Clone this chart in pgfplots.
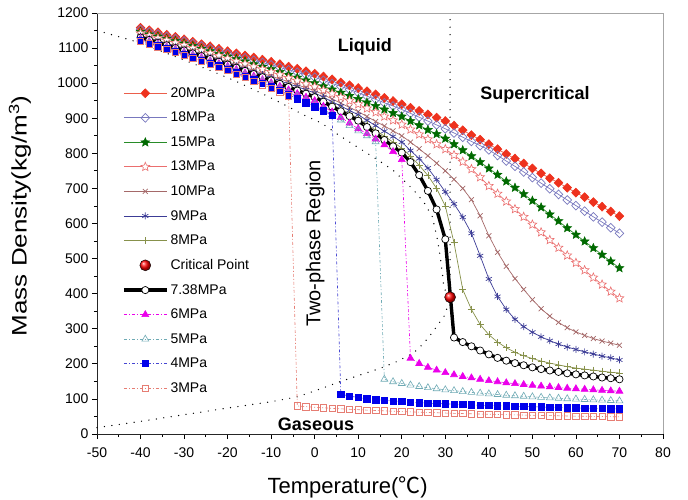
\documentclass[border=0pt]{standalone}
\usepackage{fontspec}
\setmainfont{Liberation Sans}
\newfontfamily\cjk{Noto Sans CJK SC}
\usepackage{graphicx}
\usepackage{pgfplots}
\usepackage{pgfplotstable}
\pgfplotsset{compat=1.18}
\pgfdeclareplotmark{star5}{%
  \pgfpathmoveto{\pgfpointpolar{90}{\pgfplotmarksize}}%
  \pgfpathlineto{\pgfpointpolar{126}{0.45\pgfplotmarksize}}%
  \pgfpathlineto{\pgfpointpolar{162}{\pgfplotmarksize}}%
  \pgfpathlineto{\pgfpointpolar{198}{0.45\pgfplotmarksize}}%
  \pgfpathlineto{\pgfpointpolar{234}{\pgfplotmarksize}}%
  \pgfpathlineto{\pgfpointpolar{270}{0.45\pgfplotmarksize}}%
  \pgfpathlineto{\pgfpointpolar{306}{\pgfplotmarksize}}%
  \pgfpathlineto{\pgfpointpolar{342}{0.45\pgfplotmarksize}}%
  \pgfpathlineto{\pgfpointpolar{18}{\pgfplotmarksize}}%
  \pgfpathlineto{\pgfpointpolar{54}{0.45\pgfplotmarksize}}%
  \pgfpathclose
  \pgfusepathqfillstroke}
\definecolor{c20}{RGB}{238,50,30}
\definecolor{c20l}{RGB}{235,95,75}
\definecolor{c18}{RGB}{120,120,190}
\definecolor{c15}{RGB}{0,105,0}
\definecolor{c15l}{RGB}{40,140,40}
\definecolor{c13}{RGB}{235,110,110}
\definecolor{c10}{RGB}{165,105,105}
\definecolor{c9}{RGB}{60,60,150}
\definecolor{c8}{RGB}{135,145,75}
\definecolor{c6}{RGB}{235,0,235}
\definecolor{c5}{RGB}{110,170,180}
\definecolor{c4}{RGB}{0,0,235}
\definecolor{c4l}{RGB}{70,70,210}
\definecolor{c3}{RGB}{230,125,115}
\pgfplotstableread{
T p3 p4 p5 p6 p738 p8 p9 p10 p13 p15 p18 p20
-40 1120 1122 1124 1127 1130 1131 1134 1136 1142 1146 1153 1158
-38 1112 1114 1116 1119 1123 1124 1127 1129 1135 1139 1146 1151
-36 1104 1106 1109 1112 1115 1117 1120 1122 1128 1133 1140 1145
-34 1096 1099 1101 1104 1108 1109 1112 1114 1122 1126 1133 1138
-32 1088 1091 1094 1097 1100 1102 1105 1107 1115 1120 1127 1132
-30 1080 1083 1086 1089 1093 1095 1098 1100 1108 1113 1120 1125
-28 1071 1074 1078 1081 1085 1087 1090 1092 1100 1106 1113 1118
-26 1062 1066 1069 1073 1077 1079 1082 1084 1093 1098 1106 1111
-24 1054 1057 1061 1064 1069 1071 1074 1077 1085 1091 1099 1105
-22 1045 1049 1052 1056 1061 1063 1066 1069 1078 1083 1092 1098
-20 1036 1040 1044 1048 1053 1055 1058 1061 1070 1076 1085 1091
-18 1026 1030 1034 1039 1044 1046 1050 1053 1062 1069 1078 1085
-16 1016 1020 1025 1029 1035 1037 1041 1045 1055 1062 1072 1079
-14 1005 1010 1015 1020 1026 1029 1033 1036 1047 1054 1065 1073
-12 995 1000 1006 1010 1017 1020 1024 1028 1040 1047 1059 1067
-10 985 990 996 1001 1008 1011 1016 1020 1032 1040 1052 1061
-8 975 979 985 991 998 1002 1007 1012 1024 1032 1045 1054
-6 964 967 974 981 989 993 998 1004 1015 1024 1038 1047
-4 80 956 963 970 979 983 990 995 1007 1016 1031 1041
-2 78 944 952 960 970 974 981 987 998 1008 1024 1034
0 76.3 933 941 950 960 965 972 979 990 1000 1017 1027
2 74.7 921 926 934 947 952 960 967 980 991 1008 1019
4 73.2 908 910 918 933 939 947 955 970 982 999 1011
6 71.8 114 895 902 920 926 935 943 960 973 991 1002
8 70.5 108 879 886 906 913 922 931 950 964 982 994
10 69.3 104 864 870 893 900 910 919 940 955 973 986
12 68.1 100.5 850 856 875 883 894 905 928 945 963 977
14 67 98 833 841 857 866 879 891 917 935 954 968
16 66 96 156 824 838 849 863 878 905 925 944 958
18 65 94 149 805 820 832 848 864 894 915 935 949
20 64 92.5 144 782 802 815 832 850 882 905 925 940
22 63.1 91 139.5 216 775 792 808 832 868 892 914 930
24 62.2 89.5 135.5 201 738 766 785 813 854 880 903 921
26 61.4 88 132 190 693 737 758 793 840 867 892 911
28 60.6 87 129 182 640 700 725 772 826 855 881 902
30 59.8 86 126 175 555 650 690 750 812 842 870 892
32 59 85 123.5 169 275 545 656 726 795 826 858 879
34 58.3 84 121 164 262 412 618 700 776 809 846 866
36 57.6 83 118.5 160 250 355 572 668 755 792 834 852
38 56.9 82 116.5 156 238 312 508 622 732 775 822 839
40 56.3 81.3 114.5 152 227 283 442 565 707 757 810 826
42 55.7 80.6 112.5 149 217 262 392 518 685 739 794 812
44 55.1 79.9 110.5 146 209 246 355 478 663 720 778 798
46 54.5 79.2 109 143.5 202 233 327 443 641 702 763 785
48 54 78.5 107.5 141 196 223 306 412 619 684 747 771
50 53.4 77.8 106 138.5 190 215 290 383 597 665 731 757
52 52.9 77.1 104.5 136.5 185 208 277 357 575 646 715 743
54 52.4 76.4 103 134.5 181 202 266 336 553 626 699 729
56 51.9 75.7 102 132.5 177 197 256 318 531 607 683 716
58 51.4 75 100.5 130.5 173 192 248 303 509 587 667 702
60 51 74.3 99.5 129 170 188 241 291 488 568 651 688
62 50.6 73.7 98.5 127.5 167 185 234 281 467 549 635 675
64 50.2 73.1 97.5 126 164 182 228 272 446 530 619 661
66 49.8 72.5 96.5 124.5 161 179 222 265 426 511 604 648
68 49.4 71.9 95.5 123 159 176 217 259 406 492 588 634
70 49 71.3 94.5 122 156 174 211 253 387 473 572 621
}\tbl
\begin{document}
\begin{tikzpicture}
\begin{axis}[
  scale only axis, width=566pt, height=421pt,
  xmin=-50, xmax=80, ymin=0, ymax=1200,
  clip=false,
  axis x line*=bottom, axis y line*=left,
  axis line style={line width=0.9pt, black!85},
  xtick={-50,-40,...,80},
  xticklabels={-50,-40,-30,-20,-10,0,10,20,30,40,50,60,70,80},
  ytick={0,100,...,1200},
  yticklabels={0,100,200,300,400,500,600,700,800,900,1000,1100,1200},
  minor x tick num=1, minor y tick num=1,
  tick align=outside, major tick length=5pt, minor tick length=3pt,
  every tick/.style={black, line width=0.8pt},
  ticklabel style={font=\fontsize{14}{16}\selectfont},
  xticklabel style={yshift=-5pt},
  xlabel={Temperature({\cjk ℃})},
  xlabel style={at={(axis description cs:0.443,0)}, anchor=center, yshift=-53pt, font=\fontsize{22}{24}\selectfont},
  ylabel={\scalebox{1.24}[1]{Mass Density(kg/m\textsuperscript{3})}},
  ylabel style={at={(axis description cs:-0.136,0.518)}, anchor=center, font=\fontsize{21}{23}\selectfont},
  legend style={draw=none, fill=none, at={(0.044,0.828)}, anchor=north west,
    font=\fontsize{14}{16}\selectfont, row sep=9.3pt, inner sep=0pt},
  legend cell align=left,
  legend image code/.code={\draw[mark repeat=2,mark phase=2,#1] plot coordinates {(0pt,0pt) (21.5pt,0pt) (43pt,0pt)};},
]
% phase boundaries
\addplot[black, line width=1.4pt, dash pattern=on 0pt off 7.5pt, line cap=round, forget plot] coordinates {
(-50,18) (-40,36) (-30,55) (-20,74) (-10,92) (-4,106) (0.5,125) (5.8,149) (10.4,168) (15,187) (18.8,206) (22.6,230) (25,258) (27.2,292) (29.9,339) (31.1,390)};
\addplot[black, line width=1.4pt, dash pattern=on 0pt off 7.5pt, line cap=round, forget plot] coordinates {
(-50,1150) (-48,1143) (-44,1129) (-42,1122) (-35,1090) (-30,1066) (-22,1026) (-18,1005) (-10.7,962) (-6.4,935) (-2.6,910) (1.6,886) (5.4,853) (9.3,822) (15,777) (18,752) (22.6,697) (25,662) (27,620) (28.1,560) (28.8,508) (29.3,460) (29.7,415) (31.1,390)};
\addplot[black, line width=1.4pt, dash pattern=on 0pt off 7.5pt, line cap=round, forget plot] coordinates {(31.1,390) (31.1,1200)};
% series
\addplot[c20l, line width=0.7pt, mark=diamond*, mark size=4.4pt, mark options={solid, draw=c20, fill=c20, xscale=1.3}] table[x=T,y=p20]{\tbl};
\addlegendentry{20MPa}
\addplot[c18, line width=0.7pt, mark=diamond, mark size=4.4pt, mark options={solid, draw=c18, fill=white, xscale=1.3}] table[x=T,y=p18]{\tbl};
\addlegendentry{18MPa}
\addplot[c15l, line width=0.7pt, mark=star5, mark size=4.6pt, mark options={solid, draw=c15, fill=c15, line width=0.5pt}] table[x=T,y=p15]{\tbl};
\addlegendentry{15MPa}
\addplot[c13, line width=0.7pt, mark=star5, mark size=4.6pt, mark options={solid, draw=c13, fill=white, line width=0.6pt}] table[x=T,y=p13]{\tbl};
\addlegendentry{13MPa}
\addplot[c10, line width=0.7pt, mark=x, mark size=3.5pt, mark options={solid}] table[x=T,y=p10]{\tbl};
\addlegendentry{10MPa}
\addplot[c9, line width=0.7pt, mark=asterisk, mark size=3.5pt, mark options={solid}] table[x=T,y=p9]{\tbl};
\addlegendentry{9MPa}
\addplot[c8, line width=0.7pt, mark=+, mark size=3.5pt, mark options={solid}] table[x=T,y=p8]{\tbl};
\addlegendentry{8MPa}
\addplot[only marks, mark=ball, ball color=red, mark size=5.5pt] coordinates {(31.1,390)};
\addlegendentry{Critical Point}
\addplot[black, line width=3.4pt, mark=*, mark size=3.6pt, mark options={solid, draw=black, fill=white, line width=0.7pt}] table[x=T,y=p738]{\tbl};
\addlegendentry{7.38MPa}
\addplot[c6, line width=0.6pt, dash pattern=on 3pt off 2pt on 1pt off 2pt, mark=triangle*, mark size=4pt, mark options={solid, draw=c6, fill=c6}] table[x=T,y=p6]{\tbl};
\addlegendentry{6MPa}
\addplot[c5, line width=0.6pt, dash pattern=on 3pt off 2pt on 1pt off 2pt, mark=triangle, mark size=4pt, mark options={solid, draw=c5, fill=white}] table[x=T,y=p5]{\tbl};
\addlegendentry{5MPa}
\addplot[c4l, line width=0.6pt, dash pattern=on 3pt off 2pt on 1pt off 2pt, mark=square*, mark size=3.2pt, mark options={solid, draw=c4, fill=c4}] table[x=T,y=p4]{\tbl};
\addlegendentry{4MPa}
\addplot[c3, line width=0.6pt, dash pattern=on 3pt off 2pt on 1pt off 2pt, mark=square, mark size=3.2pt, mark options={solid, draw=c3, fill=white}] table[x=T,y=p3]{\tbl};
\addlegendentry{3MPa}
% frame and region labels
\draw[black!35, line width=0.8pt] (rel axis cs:0,1) -- (rel axis cs:1,1) -- (rel axis cs:1,0);
\node[font=\bfseries\fontsize{18}{20}\selectfont] at (axis cs:11.5,1104) {Liquid};
\node[font=\bfseries\fontsize{18}{20}\selectfont] at (axis cs:50.6,967) {Supercritical};
\node[font=\bfseries\fontsize{18}{20}\selectfont] at (axis cs:0.3,28.5) {Gaseous};
\node[rotate=90, font=\fontsize{20}{22}\selectfont] at (axis cs:0.1,543) {Two-phase Region};
\end{axis}
\pgfresetboundingbox
\path ([shift={(-97pt,-65pt)}]current axis.south west) rectangle ([shift={(25pt,13pt)}]current axis.north east);
\end{tikzpicture}
\end{document}
